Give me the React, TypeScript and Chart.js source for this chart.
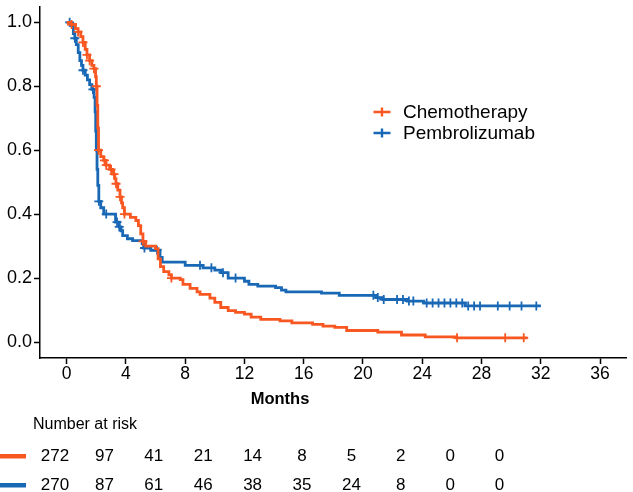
import React, { useEffect, useRef } from 'react';
import { Chart, registerables } from 'chart.js';

Chart.register(...registerables);

const FONT = '"Liberation Sans", Arial, Helvetica, sans-serif';

const seriesNames = ['Chemotherapy', 'Pembrolizumab'];
const seriesColors = ['#F85721', '#1868B6'];

// Kaplan-Meier step points (time in months, survival after the step)
const chemoTimes = [0, 0.3, 0.6, 0.77, 0.95, 1.1, 1.25, 1.37, 1.55, 1.7, 1.84, 1.95, 2.0, 2.05, 2.1, 2.15, 2.3, 2.5, 2.65, 2.9, 3.1, 3.25, 3.33, 3.45, 3.6, 3.7, 3.78, 3.9, 4.3, 4.67, 4.84, 5.0, 5.15, 5.33, 6.0, 6.17, 6.33, 6.55, 6.9, 7.07, 7.67, 7.85, 8.33, 8.8, 9.0, 9.67, 10.0, 10.4, 10.9, 11.4, 12.0, 12.45, 13.1, 14.4, 15.2, 16.6, 17.3, 18.1, 18.9, 21.0, 22.6, 24.2, 26.3, 31.1];
const chemoSurv = [1.0, 0.993, 0.98, 0.97, 0.955, 0.937, 0.915, 0.898, 0.88, 0.865, 0.855, 0.83, 0.80, 0.74, 0.67, 0.60, 0.58, 0.568, 0.553, 0.54, 0.525, 0.51, 0.495, 0.475, 0.454, 0.435, 0.42, 0.40, 0.39, 0.38, 0.364, 0.338, 0.315, 0.30, 0.292, 0.26, 0.236, 0.22, 0.21, 0.20, 0.195, 0.18, 0.168, 0.157, 0.149, 0.137, 0.124, 0.108, 0.098, 0.093, 0.087, 0.078, 0.071, 0.066, 0.06, 0.055, 0.05, 0.046, 0.036, 0.031, 0.022, 0.016, 0.013, 0.013];
const chemoCensor = [0.33, 0.77, 1.1, 1.37, 1.55, 1.84, 2.0, 2.15, 2.55, 2.67, 3.0, 3.2, 3.33, 3.6, 3.9, 5.15, 7.07, 26.35, 29.6, 30.85];

const pembroTimes = [0, 0.3, 0.45, 0.55, 0.65, 0.78, 0.89, 1.0, 1.1, 1.25, 1.4, 1.55, 1.7, 1.85, 1.92, 1.96, 2.0, 2.05, 2.1, 2.17, 2.3, 2.5, 3.3, 3.55, 3.67, 3.78, 4.1, 4.45, 5.1, 5.2, 5.67, 6.3, 6.45, 8.0, 9.2, 10.0, 10.4, 10.9, 12.0, 12.3, 12.9, 14.1, 14.5, 14.8, 17.2, 18.4, 20.9, 21.35, 23.0, 24.1, 26.9, 32.0];
const pembroSurv = [1.0, 0.99, 0.965, 0.95, 0.93, 0.905, 0.88, 0.865, 0.85, 0.835, 0.82, 0.805, 0.79, 0.765, 0.72, 0.66, 0.60, 0.54, 0.49, 0.44, 0.42, 0.40, 0.375, 0.36, 0.348, 0.333, 0.323, 0.317, 0.307, 0.294, 0.287, 0.265, 0.25, 0.24, 0.232, 0.225, 0.217, 0.20, 0.19, 0.18, 0.175, 0.17, 0.162, 0.157, 0.153, 0.146, 0.139, 0.133, 0.128, 0.122, 0.113, 0.113];
const pembroCensor = [0.2, 0.55, 1.1, 1.77, 2.17, 2.67, 3.4, 3.55, 5.25, 6.1, 9.0, 9.77, 10.55, 11.4, 20.7, 21.0, 21.4, 22.3, 22.7, 23.1, 23.4, 24.3, 24.7, 25.1, 25.5, 25.9, 26.3, 26.7, 27.1, 27.5, 27.9, 29.1, 29.9, 30.7, 31.7];

const xTicks = [0, 4, 8, 12, 16, 20, 24, 28, 32, 36];
const yTicks = [0, 0.2, 0.4, 0.6, 0.8, 1.0];

const riskChemo = [272, 97, 41, 21, 14, 8, 5, 2, 0, 0];
const riskPembro = [270, 87, 61, 46, 38, 35, 24, 8, 0, 0];

function survAt(times: number[], surv: number[], t: number): number {
  let s = surv[0];
  for (let i = 0; i < times.length; i++) {
    if (times[i] <= t) s = surv[i];
  }
  return s;
}

const overlayPlugin = {
  id: 'kmOverlay',
  afterDraw(chart: any) {
    const ctx = chart.ctx as CanvasRenderingContext2D;
    ctx.save();
    // legend
    const legendY = [112, 133];
    seriesNames.forEach((name, i) => {
      const y = legendY[i];
      ctx.strokeStyle = seriesColors[i];
      ctx.lineWidth = 2.4;
      ctx.beginPath();
      ctx.moveTo(373.5, y);
      ctx.lineTo(390.5, y);
      ctx.moveTo(382, y - 4.5);
      ctx.lineTo(382, y + 4.5);
      ctx.stroke();
      ctx.fillStyle = '#000';
      ctx.font = `19px ${FONT}`;
      ctx.textAlign = 'left';
      ctx.textBaseline = 'middle';
      ctx.fillText(name, 403, y + 1);
    });
    // axis title
    ctx.fillStyle = '#000';
    ctx.font = `bold 16.5px ${FONT}`;
    ctx.textAlign = 'center';
    ctx.textBaseline = 'middle';
    ctx.fillText('Months', 280, 399);
    // risk table
    ctx.font = `16px ${FONT}`;
    ctx.textAlign = 'left';
    ctx.fillText('Number at risk', 33, 425);
    const rows = [riskChemo, riskPembro];
    const rowY = [456, 485];
    rows.forEach((row, r) => {
      const y = rowY[r];
      ctx.fillStyle = seriesColors[r];
      ctx.fillRect(0, y - 2, 26, 4.5);
      ctx.fillStyle = '#000';
      ctx.font = `17px ${FONT}`;
      ctx.textAlign = 'center';
      row.forEach((v, i) => ctx.fillText(String(v), 55 + 49.4 * i, y));
    });
    ctx.restore();
  },
};

export default function App() {
  const ref = useRef<HTMLCanvasElement | null>(null);

  useEffect(() => {
    document.body.style.margin = '0';
    const canvas = ref.current;
    if (!canvas) return;

    const lineData = (times: number[], surv: number[]) =>
      times.map((t, i) => ({ x: t, y: surv[i] }));
    const censorData = (times: number[], surv: number[], cens: number[]) =>
      cens.map((t) => ({ x: t, y: survAt(times, surv, t) }));

    const chart = new Chart(canvas, {
      type: 'scatter',
      data: {
        datasets: [
          {
            label: seriesNames[0],
            data: lineData(chemoTimes, chemoSurv),
            showLine: true,
            stepped: true,
            borderColor: seriesColors[0],
            borderWidth: 2.8,
            pointRadius: 0,
            fill: false,
          } as any,
          {
            label: seriesNames[0] + ' censored',
            data: censorData(chemoTimes, chemoSurv, chemoCensor),
            showLine: false,
            pointStyle: 'cross',
            pointRadius: 4.5,
            pointBorderWidth: 1.8,
            pointBorderColor: seriesColors[0],
            borderColor: seriesColors[0],
          } as any,
          {
            label: seriesNames[1],
            data: lineData(pembroTimes, pembroSurv),
            showLine: true,
            stepped: true,
            borderColor: seriesColors[1],
            borderWidth: 2.8,
            pointRadius: 0,
            fill: false,
          } as any,
          {
            label: seriesNames[1] + ' censored',
            data: censorData(pembroTimes, pembroSurv, pembroCensor),
            showLine: false,
            pointStyle: 'cross',
            pointRadius: 4.5,
            pointBorderWidth: 1.8,
            pointBorderColor: seriesColors[1],
            borderColor: seriesColors[1],
          } as any,
        ],
      },
      options: {
        animation: false,
        responsive: false,
        maintainAspectRatio: false,
        layout: { padding: 0 },
        plugins: {
          legend: { display: false },
          tooltip: { enabled: false },
        },
        scales: {
          x: {
            type: 'linear',
            min: -1.8,
            max: 37.8,
            afterBuildTicks: (scale: any) => {
              scale.ticks = xTicks.map((v) => ({ value: v }));
            },
            afterFit: (scale: any) => {
              scale.height = 134;
              scale.paddingLeft = 0;
              scale.paddingRight = 0;
            },
            grid: {
              drawOnChartArea: false,
              drawTicks: true,
              tickLength: 6,
              tickColor: '#000',
              tickWidth: 1.5,
            },
            border: { display: true, color: '#000', width: 1.5 },
            ticks: {
              color: '#000',
              padding: 0,
              font: { family: FONT, size: 17.5 },
              maxRotation: 0,
              autoSkip: false,
              callback: (v: any) => String(v),
            },
          },
          y: {
            type: 'linear',
            min: -0.05,
            max: 1.05,
            afterBuildTicks: (scale: any) => {
              scale.ticks = yTicks.map((v) => ({ value: v }));
            },
            afterFit: (scale: any) => {
              scale.width = 40;
              scale.paddingTop = 0;
              scale.paddingBottom = 0;
            },
            grid: {
              drawOnChartArea: false,
              drawTicks: true,
              tickLength: 6,
              tickColor: '#000',
              tickWidth: 1.5,
            },
            border: { display: true, color: '#000', width: 1.5 },
            ticks: {
              color: '#000',
              padding: 2,
              font: { family: FONT, size: 18 },
              autoSkip: false,
              callback: (v: any) => Number(v).toFixed(1),
            },
          },
        },
      } as any,
      plugins: [overlayPlugin],
    });

    return () => chart.destroy();
  }, []);

  return (
    <div style={{ width: 633, height: 492 }}>
      <canvas ref={ref} width={633} height={492} style={{ display: 'block', width: 633, height: 492 }} />
    </div>
  );
}
